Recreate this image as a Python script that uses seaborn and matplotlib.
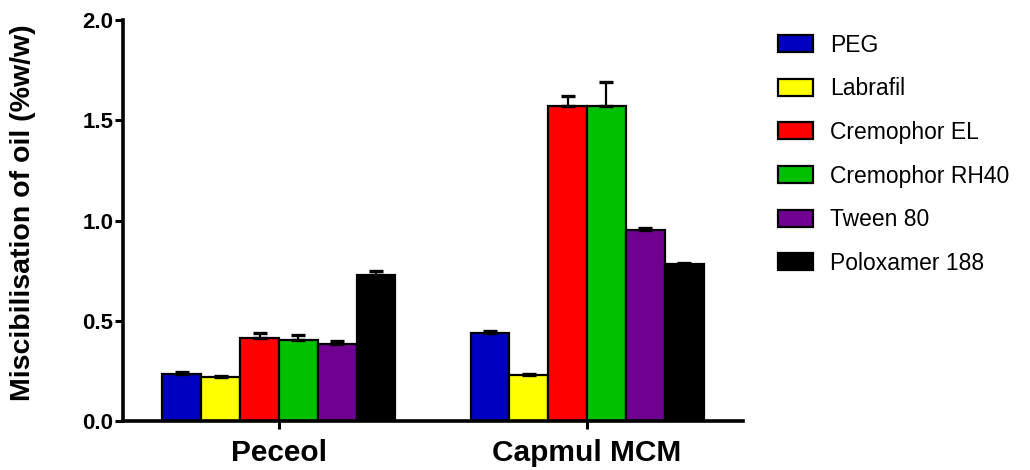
import matplotlib
matplotlib.use("Agg")
import matplotlib.pyplot as plt
import seaborn as sns
import pandas as pd
import numpy as np
from matplotlib.patches import Patch

oils = ["Peceol", "Capmul MCM"]
surfactants = ["PEG", "Labrafil", "Cremophor EL", "Cremophor RH40", "Tween 80", "Poloxamer 188"]
peceol_vals = [0.234, 0.221, 0.416, 0.404, 0.383, 0.728]
peceol_err = [0.012, 0.004, 0.025, 0.026, 0.014, 0.018]
capmul_vals = [0.438, 0.229, 1.570, 1.570, 0.951, 0.783]
capmul_err = [0.012, 0.003, 0.050, 0.120, 0.014, 0.004]
colors = ["#0000C0", "#FFFF00", "#FF0000", "#00C000", "#700090", "#000000"]

rows = []
for oil, vals, errs in [(oils[0], peceol_vals, peceol_err), (oils[1], capmul_vals, capmul_err)]:
    for s, v, e in zip(surfactants, vals, errs):
        rows.append({"oil": oil, "surf": s, "val": v, "err": e})
df = pd.DataFrame(rows)

sns.set_style("ticks")
plt.rcParams["font.family"] = ["Liberation Sans", "DejaVu Sans"]
plt.rcParams["text.color"] = "black"
plt.rcParams["axes.labelcolor"] = "black"
plt.rcParams["xtick.color"] = "black"
plt.rcParams["ytick.color"] = "black"

fig = plt.figure(figsize=(10.30, 4.70), dpi=100)
ax = fig.add_axes([123 / 1030, 49 / 470, 620 / 1030, 401 / 470])

sns.barplot(data=df, x="oil", y="val", hue="surf", order=oils, hue_order=surfactants,
            palette=colors, errorbar=None, width=0.756, edgecolor="black",
            linewidth=1.6, ax=ax, legend=False, saturation=1)

# error bars (upper only) on top of each bar; seaborn draws patches hue by hue
order_df = df.assign(_h=df["surf"].map({s: i for i, s in enumerate(surfactants)}),
                     _o=df["oil"].map({o: i for i, o in enumerate(oils)})).sort_values(["_h", "_o"])
for patch, (_, r) in zip(ax.patches, order_df.iterrows()):
    xc = patch.get_x() + patch.get_width() / 2
    ax.errorbar(xc, r["val"], yerr=[[0], [r["err"]]], fmt="none", ecolor="black",
                elinewidth=1.6, capsize=5, capthick=2.4, zorder=1)

ax.set_ylim(0, 2.0)
ax.set_xlim(-0.506, 1.506)
ax.set_yticks([0.0, 0.5, 1.0, 1.5, 2.0])
ax.set_yticklabels(["0.0", "0.5", "1.0", "1.5", "2.0"], fontsize=16, fontweight="bold", color="black")
ax.set_xticks([0, 1])
ax.set_xticklabels(oils, fontsize=21.5, fontweight="bold", color="black")
ax.set_xlabel("")
ax.set_ylabel("Miscibilisation of oil (%w/w)", fontsize=20.5, fontweight="bold", color="black")
ax.yaxis.set_label_coords(-0.141, 0.52)
for side in ["top", "right"]:
    ax.spines[side].set_visible(False)
for side in ["left", "bottom"]:
    ax.spines[side].set_linewidth(2.6)
    ax.spines[side].set_color("black")
ax.tick_params(axis="both", width=2.2, length=6, color="black", labelcolor="black")
ax.tick_params(axis="y", pad=1)
ax.tick_params(axis="x", pad=7)

handles = [Patch(facecolor=c, edgecolor="black", linewidth=1.6) for c in colors]
leg = fig.legend(handles, surfactants, loc="upper left", bbox_to_anchor=(757 / 1030, 1 - 13 / 470),
                 frameon=False, fontsize=16.5, handlelength=1.55, handleheight=0.75,
                 labelspacing=0.9, handletextpad=0.75)
for t in leg.get_texts():
    t.set_color("black")

fig.savefig("out.png", dpi=100)
